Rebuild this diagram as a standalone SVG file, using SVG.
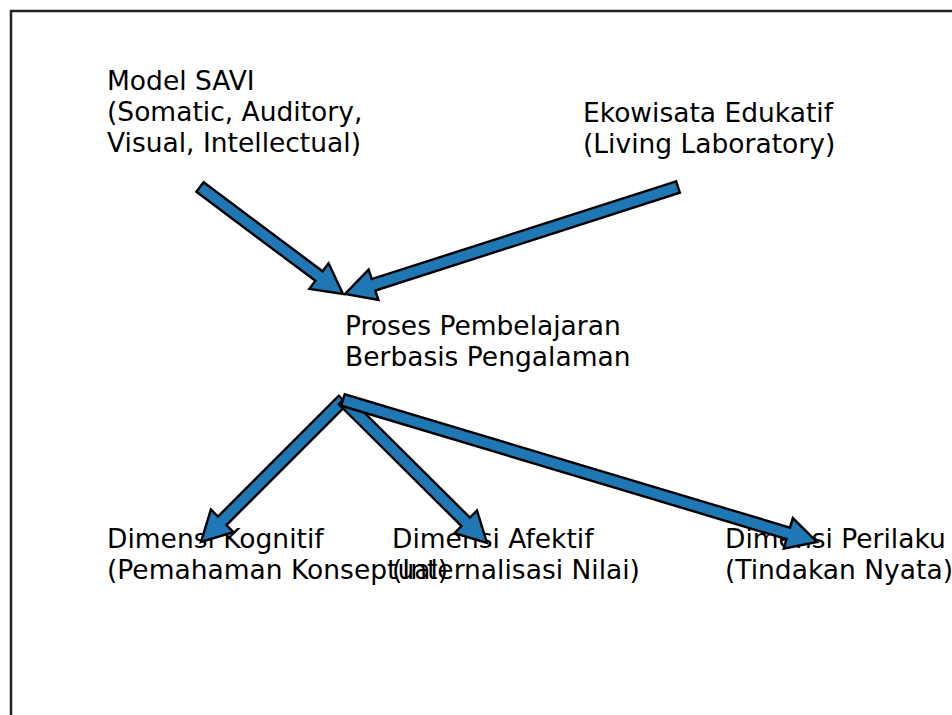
<svg xmlns="http://www.w3.org/2000/svg" width="952" height="715" viewBox="0 0 952 715">
<style>
.t{font-family:"DejaVu Sans","Liberation Sans",sans-serif;font-size:26.5px;fill:#000}
.a{fill:#1f77b4;stroke:#000;stroke-width:2.4;stroke-linejoin:miter}
</style>
<rect width="952" height="715" fill="#fff"/>
<path d="M11 716 V11 H953" fill="none" stroke="#222" stroke-width="2.5"/>
<g id="savi"><text class="t" x="107" y="90">Model SAVI</text><text class="t" x="107" y="121">(Somatic, Auditory,</text><text class="t" x="107" y="152">Visual, Intellectual)</text></g>
<g id="eko"><text class="t" x="583" y="122">Ekowisata Edukatif</text><text class="t" x="583" y="153">(Living Laboratory)</text></g>
<g id="proses"><text class="t" x="345" y="335">Proses Pembelajaran</text><text class="t" x="345" y="366">Berbasis Pengalaman</text></g>
<g id="kognitif"><text class="t" x="107" y="548">Dimensi Kognitif</text><text class="t" x="107" y="579">(Pemahaman Konseptual)</text></g>
<g id="afektif"><text class="t" x="392" y="548">Dimensi Afektif</text><text class="t" x="392" y="579">(Internalisasi Nilai)</text></g>
<g id="perilaku"><text class="t" x="725" y="548">Dimensi Perilaku</text><text class="t" x="725" y="579">(Tindakan Nyata)</text></g>
<g id="connectors">
<polygon class="a" points="196.41,191.80 315.39,280.83 309.39,288.84 343,294 328.57,263.22 322.58,271.23 203.60,182.20"/>
<polygon class="a" points="676.17,181.29 371.73,279.11 368.67,269.59 345,294 378.45,300.05 375.40,290.53 679.84,192.71"/>
<polygon class="a" points="338.76,395.76 217.97,516.55 210.90,509.48 201,542 233.52,532.10 226.45,525.03 347.24,404.24"/>
<polygon class="a" points="338.77,404.26 461.48,526.12 454.44,533.21 487,543 476.98,510.51 469.94,517.60 347.23,395.74"/>
<polygon class="a" points="341.28,405.75 786.54,539.14 783.67,548.72 817,542 792.85,518.06 789.98,527.64 344.72,394.25"/>
</g>
</svg>
